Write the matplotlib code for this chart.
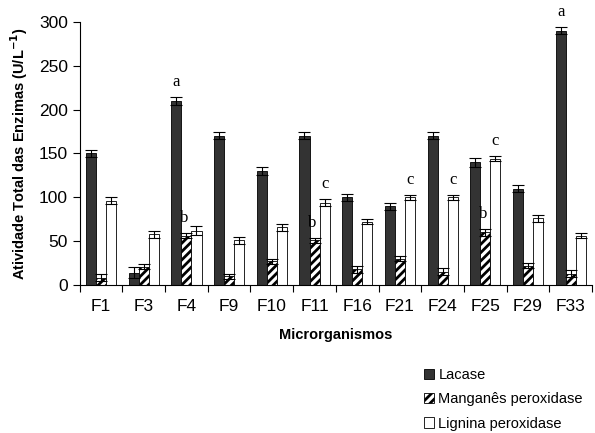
import matplotlib.pyplot as plt
import numpy as np

plt.rcParams['font.family'] = ['Liberation Sans', 'DejaVu Sans']
plt.rcParams['hatch.linewidth'] = 2.0

categorias = ['F1', 'F3', 'F4', 'F9', 'F10', 'F11', 'F16', 'F21', 'F24', 'F25', 'F29', 'F33']
lacase = [150, 14, 210, 170, 130, 170, 100, 90, 170, 140, 110, 290]
manganes = [8, 21, 56, 10, 27, 51, 18, 30, 15, 60, 22, 13]
lignina = [96, 58, 62, 51, 66, 94, 72, 100, 100, 144, 76, 56]
err_lacase = [4, 6, 5, 4, 5, 4, 4, 4, 4, 5, 4, 4]
err_manganes = [4, 3, 3, 3, 3, 3, 4, 3, 4, 4, 3, 4]
err_lignina = [4, 4, 5, 4, 4, 4, 3, 3, 3, 3, 4, 3]
letras_lacase = ['', '', 'a', '', '', '', '', '', '', '', '', 'a']
letras_manganes = ['', '', 'b', '', '', 'b', '', '', '', 'b', '', '']
letras_lignina = ['', '', '', '', '', 'c', '', 'c', 'c', 'c', '', '']

fig = plt.figure(figsize=(5.95, 4.33), dpi=100)
ax = fig.add_axes([0.134, 0.342, 0.861, 0.607])

x = np.arange(len(categorias))
w = 0.235
ek = dict(capsize=4, elinewidth=0.8, capthick=0.8, ecolor='black')

b1 = ax.bar(x - w, lacase, w, yerr=err_lacase, color='#333333', edgecolor='black',
            linewidth=0.6, error_kw=ek, label='Lacase')
b2 = ax.bar(x, manganes, w, yerr=err_manganes, color='white', edgecolor='black',
            hatch='////', linewidth=0.6, error_kw=ek, label='Manganês peroxidase')
b3 = ax.bar(x + w, lignina, w, yerr=err_lignina, color='white', edgecolor='black',
            linewidth=0.6, error_kw=ek, label='Lignina peroxidase')

# letras de significancia
for serie, erros, letras, desl in [(lacase, err_lacase, letras_lacase, -w),
                                    (manganes, err_manganes, letras_manganes, -0.05),
                                    (lignina, err_lignina, letras_lignina, w)]:
    for i, (v, e, l) in enumerate(zip(serie, erros, letras)):
        if l:
            ax.text(x[i] + desl, v + e + 8, l, ha='center', va='bottom',
                    fontsize=12, family='Liberation Serif', clip_on=False)

ax.set_xlim(-0.5, len(categorias) - 0.5)
ax.set_ylim(0, 300)
ax.set_yticks(range(0, 301, 50))
ax.set_xticks(x)
ax.set_xticklabels(categorias)
ax.set_xticks(np.arange(-0.5, len(categorias), 1), minor=True)
ax.tick_params(axis='x', which='major', length=0, pad=10, labelsize=12.5)
ax.tick_params(axis='x', which='minor', length=5, width=0.8)
ax.tick_params(axis='y', length=5, width=0.8, labelsize=12.5)
ax.spines['top'].set_visible(False)
ax.spines['right'].set_visible(False)
ax.spines['left'].set_linewidth(0.8)
ax.spines['bottom'].set_linewidth(0.8)

ax.set_ylabel('Atividade Total das Enzimas (U/L$^{\\mathbf{-1}}$)', fontsize=10.5,
              fontweight='bold', labelpad=6)
ax.set_xlabel('Microrganismos', fontsize=10.5, fontweight='bold', labelpad=10)

fig.legend(handles=[b1, b2, b3], loc='lower left', bbox_to_anchor=(0.69, -0.025),
           frameon=False, fontsize=10.5, handlelength=0.7, handleheight=0.7,
           handletextpad=0.3, labelspacing=0.7)

fig.savefig('out.png', dpi=100)
